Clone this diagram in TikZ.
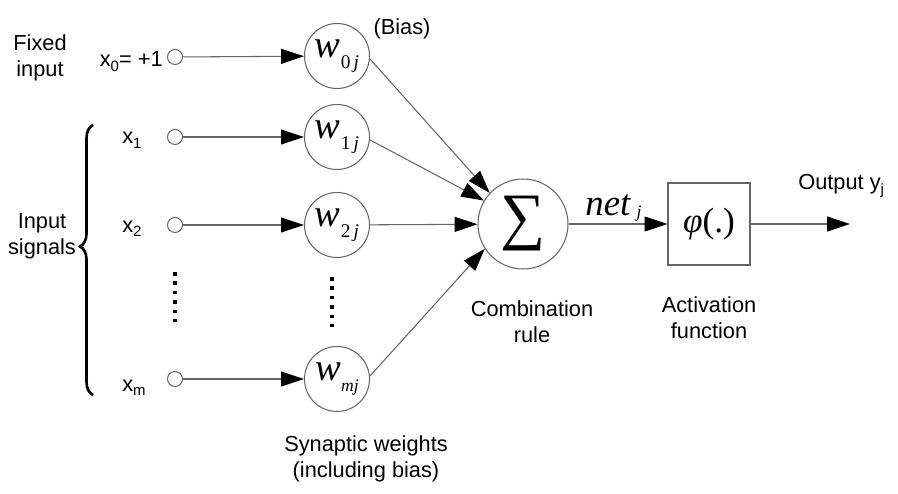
\documentclass[tikz,border=0pt]{standalone}
\usepackage{fontspec}
\setmainfont{Liberation Sans}
\newfontfamily\timesfont{Liberation Serif}
\usetikzlibrary{arrows.meta, decorations.pathreplacing}
\tikzstyle{arrow} = [draw=black!60, line width=0.6pt, -{Triangle[length=13pt,width=8.5pt,color=black]}]
\tikzstyle{wnode} = [circle, draw=black!60, line width=0.6pt, minimum size=1.3cm, inner sep=0pt]
\tikzstyle{inp} = [circle, draw=black!60, line width=0.6pt, minimum size=0.3cm, inner sep=0pt]
\tikzstyle{txt} = [font=\fontsize{12.4}{14.8}\selectfont, align=center, inner sep=0pt]
\tikzstyle{dots} = [line width=2.1pt, dash pattern=on 2.1pt off 3.25pt]
\newcommand{\weight}[2]{{\timesfont\itshape\fontsize{22}{22}\selectfont w}\raisebox{-6.5pt}{\timesfont\fontsize{#2}{#2}\selectfont #1}}
\newcommand{\xsub}[2]{#1\raisebox{-2.5pt}{\fontsize{8.5}{8.5}\selectfont #2}}

\begin{document}
\begin{tikzpicture}[x=0.02cm, y=-0.02cm]
\useasboundingbox (0,0) rectangle (898,493);
\node[inp] (s0) at (175,57) {};
\node[inp] (s1) at (175,137) {};
\node[inp] (s2) at (175,225) {};
\node[inp] (sm) at (175,379) {};
\node[wnode] (w0) at (337,56) {\weight{0\,\textit{j}}{11}};
\node[wnode] (w1) at (337,137) {\weight{1\,\textit{j}}{11}};
\node[wnode] (w2) at (337,225) {\weight{2\,\textit{j}}{11}};
\node[wnode] (wm) at (337,379) {\weight{\textit{mj}}{10}};
\node[circle, draw=black!60, line width=0.6pt, minimum size=1.8cm, inner sep=0pt] (sum) at (523,224) {\timesfont\fontsize{36}{36}\selectfont ∑};
\node[draw=black!60, line width=0.6pt, minimum size=1.64cm, inner sep=0pt] (act) at (709,224) {\timesfont\fontsize{20}{20}\selectfont\textit{φ}(.)};
\coordinate (out) at (850,224);

\node[txt] (fixed) at (40,58) {Fixed\\input};
\node[txt, anchor=base east] (x0) at (163,67) {\xsub{x}{0}= +1};
\node[txt, anchor=base west] (x1) at (122,144) {\xsub{x}{1}};
\node[txt, anchor=base west] (x2) at (122,232) {\xsub{x}{2}};
\node[txt, anchor=base west] (xm) at (122,391) {\xsub{x}{m}};
\node[txt] (bias) at (402,29) {(Bias)};
\node[txt] (insig) at (42,236) {Input\\signals};
\node[txt] (syn) at (366,459) {Synaptic weights\\(including bias)};
\node[txt] (comb) at (532,322) {Combination\\rule};
\node[txt] (actlab) at (709,318) {Activation\\function};
\node[anchor=base west, inner sep=0pt] (net) at (585,215) {\timesfont\itshape\fontsize{21}{21}\selectfont net\,\raisebox{-1.5pt}{\fontsize{10}{10}\selectfont j}};
\node[txt, anchor=base west] (outlab) at (798,190) {Output \xsub{y}{j}};

\draw[arrow] (s0) -- (w0);
\draw[arrow] (s1) -- (w1);
\draw[arrow] (s2) -- (w2);
\draw[arrow] (sm) -- (wm);
\draw[arrow] (w0.-5) -- (sum.137);
\draw[arrow] (w1.-5) -- (sum.149);
\draw[arrow] (w2) -- (sum);
\draw[arrow] (wm.5) -- (sum.213);
\draw[arrow] (sum) -- (act);
\draw[arrow] (act) -- (out);

\draw[dots] (175,272) -- (175,322);
\draw[dots] (332,277) -- (332,327);
\draw[line width=1.5pt, decorate, decoration={brace, amplitude=0.26cm, aspect=0.55}] (93,395) -- (93,125);
\end{tikzpicture}
\end{document}
